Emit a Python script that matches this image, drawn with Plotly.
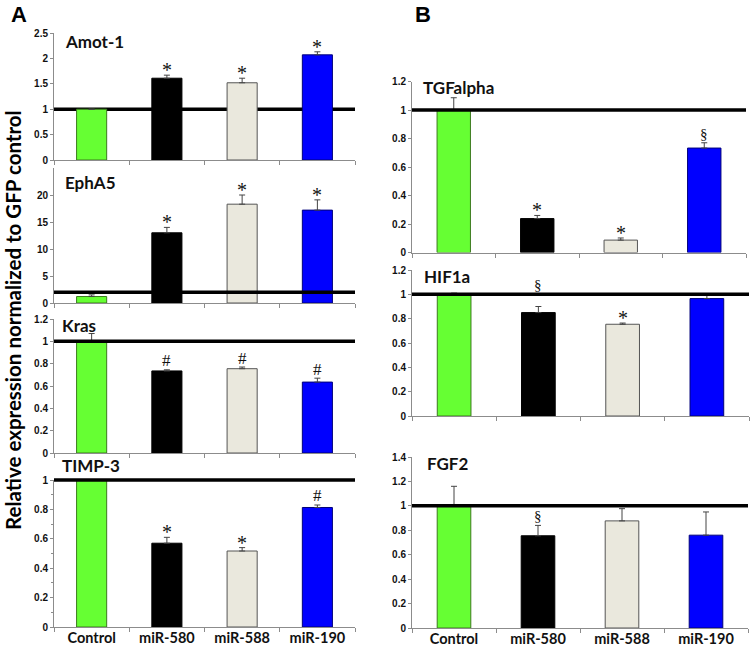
import plotly.graph_objects as go

W, H = 755, 649

categories = ["Control", "miR-580", "miR-588", "miR-190"]
bar_colors = ["#66FF33", "#000000", "#EAE8DD", "#0000FF"]
edge_colors = ["#3C7A1E", "#000000", "#555555", "#00007A"]

# ---- Panel A ----
amot1_vals = [1.0, 1.61, 1.52, 2.07]
amot1_err = [0.0, 0.06, 0.09, 0.06]
amot1_marks = ["", "*", "*", "*"]

epha5_vals = [1.2, 13.0, 18.3, 17.2]
epha5_err = [0.3, 1.0, 1.7, 1.9]
epha5_marks = ["", "*", "*", "*"]

kras_vals = [1.0, 0.735, 0.755, 0.635]
kras_err = [0.07, 0.01, 0.015, 0.035]
kras_marks = ["", "#", "#", "#"]

timp3_vals = [1.0, 0.57, 0.517, 0.813]
timp3_err = [0.0, 0.04, 0.023, 0.017]
timp3_marks = ["", "*", "*", "#"]

# ---- Panel B ----
tgfa_vals = [1.0, 0.238, 0.087, 0.733]
tgfa_err = [0.086, 0.022, 0.015, 0.037]
tgfa_marks = ["", "*", "*", "§"]

hif1a_vals = [1.0, 0.85, 0.754, 0.965]
hif1a_err = [0.01, 0.05, 0.01, 0.035]
hif1a_marks = ["", "§", "*", ""]

fgf2_vals = [1.01, 0.755, 0.877, 0.76]
fgf2_err = [0.15, 0.085, 0.10, 0.19]
fgf2_marks = ["", "§", "", ""]

ticks_12 = [0, 0.2, 0.4, 0.6, 0.8, 1, 1.2]
labels_12 = ["0", "0.2", "0.4", "0.6", "0.8", "1", "1.2"]


def px_x(p):
    return p / W


def px_y(p):
    return 1 - p / H


panels = [
    dict(name="Amot-1", vals=amot1_vals, err=amot1_err, marks=amot1_marks,
         yr=[0, 2.5], tv=[0, 0.5, 1, 1.5, 2, 2.5], tt=["0", "0.5", "1", "1.5", "2", "2.5"],
         ref=1, xd=(54, 355), yd=(33, 160), tp=(63, 42), layer="below", xl=False, minor=None),
    dict(name="EphA5", vals=epha5_vals, err=epha5_err, marks=epha5_marks,
         yr=[0, 25], tv=[0, 5, 10, 15, 20], tt=["0", "5", "10", "15", "20"],
         ref=2, xd=(54, 355), yd=(168, 303), tp=(63, 183), layer="above", xl=False, minor=None),
    dict(name="Kras", vals=kras_vals, err=kras_err, marks=kras_marks,
         yr=[0, 1.2], tv=ticks_12, tt=labels_12,
         ref=1, xd=(54, 355), yd=(319, 453), tp=(60, 325), layer="above", xl=False, minor=None),
    dict(name="TIMP-3", vals=timp3_vals, err=timp3_err, marks=timp3_marks,
         yr=[0, 1.0], tv=[0, 0.2, 0.4, 0.6, 0.8, 1], tt=["0", "0.2", "0.4", "0.6", "0.8", "1"],
         ref=1, xd=(54, 355), yd=(480, 627), tp=(60, 465), layer="above", xl=True,
         minor=[0.1, 0.3, 0.5, 0.7, 0.9]),
    dict(name="TGFalpha", vals=tgfa_vals, err=tgfa_err, marks=tgfa_marks,
         yr=[0, 1.2], tv=ticks_12, tt=labels_12,
         ref=1, xd=(412, 746), yd=(81.5, 252.5), tp=(421, 88), layer="above", xl=False, minor=None),
    dict(name="HIF1a", vals=hif1a_vals, err=hif1a_err, marks=hif1a_marks,
         yr=[0, 1.2], tv=ticks_12, tt=labels_12,
         ref=1, xd=(412, 749), yd=(270, 416), tp=(422, 276), layer="above", xl=False, minor=None),
    dict(name="FGF2", vals=fgf2_vals, err=fgf2_err, marks=fgf2_marks,
         yr=[0, 1.4], tv=[0, 0.2, 0.4, 0.6, 0.8, 1, 1.2, 1.4],
         tt=["0", "0.2", "0.4", "0.6", "0.8", "1", "1.2", "1.4"],
         ref=1, xd=(412, 748), yd=(457, 628), tp=(425, 464), layer="above", xl=True, minor=None),
]

mark_size = {"*": 20, "#": 17, "§": 15}
mark_shift = {"*": 5, "#": 9, "§": 9}

fig = go.Figure()
annotations = []
shapes = []
layout_axes = {}

for i, p in enumerate(panels):
    idx = "" if i == 0 else str(i + 1)
    xa, ya = "x" + idx, "y" + idx
    fig.add_trace(go.Bar(
        x=categories, y=p["vals"], xaxis=xa, yaxis=ya, width=0.4,
        marker=dict(color=bar_colors, line=dict(color=edge_colors, width=1)),
        error_y=dict(type="data", symmetric=False, array=p["err"],
                     arrayminus=[0] * 4, color="#444444", thickness=1, width=3),
        showlegend=False, hoverinfo="skip",
    ))
    xdom = [px_x(p["xd"][0]), px_x(p["xd"][1])]
    ydom = [px_y(p["yd"][1]), px_y(p["yd"][0])]
    layout_axes["xaxis" + idx] = dict(
        domain=xdom, anchor=ya,
        type="category", categoryorder="array", categoryarray=categories,
        showline=True, linecolor="#8c8c8c", linewidth=1,
        ticks="outside", ticklen=4, tickcolor="#8c8c8c", tickson="boundaries",
        showticklabels=p["xl"], showgrid=False, zeroline=False,
        ticklabelstandoff=-2,
        tickfont=dict(family="Lato", size=14.5, color="#111111", weight="bold"),
        range=[-0.5, 3.5],
    )
    yax = dict(
        domain=ydom, anchor=xa,
        range=p["yr"], tickvals=p["tv"], ticktext=p["tt"],
        showline=True, linecolor="#8c8c8c", linewidth=1,
        ticks="outside", ticklen=3, tickcolor="#8c8c8c",
        showgrid=False, zeroline=False,
        tickfont=dict(family="Liberation Sans", size=10, color="#111111", weight="bold"),
    )
    if p["minor"]:
        yax["minor"] = dict(tickvals=p["minor"], ticks="outside", ticklen=2,
                            tickcolor="#8c8c8c", showgrid=False)
    layout_axes["yaxis" + idx] = yax
    # reference line (in paper coords so it is not clipped at the top of the range)
    frac = (p["ref"] - p["yr"][0]) / (p["yr"][1] - p["yr"][0])
    yref_paper = ydom[0] + frac * (ydom[1] - ydom[0])
    shapes.append(dict(type="line", xref="paper", yref="paper",
                       x0=xdom[0], x1=xdom[1], y0=yref_paper, y1=yref_paper,
                       line=dict(color="black", width=3.5), layer=p["layer"]))
    # panel title
    annotations.append(dict(text=p["name"], xref="paper", yref="paper",
                            x=px_x(p["tp"][0]), y=px_y(p["tp"][1]),
                            xanchor="left", yanchor="middle", showarrow=False,
                            font=dict(family="Lato", size=17, color="#111111", weight="bold")))
    # significance marks
    for c, v, e, m in zip(categories, p["vals"], p["err"], p["marks"]):
        if not m:
            continue
        ytop = v + e
        if p["name"] == "HIF1a" and m == "§":
            ytop = max(ytop, p["ref"])
        annotations.append(dict(text=m, xref=xa, yref=ya, x=c, y=ytop,
                                yanchor="middle", yshift=mark_shift[m], showarrow=False,
                                font=dict(family="Liberation Serif", size=mark_size[m],
                                          color="#111111")))

# panel letters
annotations.append(dict(text="A", xref="paper", yref="paper", x=px_x(9), y=px_y(15),
                        xanchor="left", yanchor="middle", showarrow=False,
                        font=dict(family="Liberation Sans", size=22, color="black", weight="bold")))
annotations.append(dict(text="B", xref="paper", yref="paper", x=px_x(413), y=px_y(15),
                        xanchor="left", yanchor="middle", showarrow=False,
                        font=dict(family="Liberation Sans", size=22, color="black", weight="bold")))
# shared y title
annotations.append(dict(text="Relative expression normalized to GFP control",
                        xref="paper", yref="paper", x=px_x(13), y=px_y(320),
                        xanchor="center", yanchor="middle", textangle=-90, showarrow=False,
                        font=dict(family="Lato", size=20.5, color="black", weight="bold")))

fig.update_layout(
    width=W, height=H, margin=dict(l=0, r=0, t=0, b=0, autoexpand=False),
    paper_bgcolor="white", plot_bgcolor="white",
    annotations=annotations, shapes=shapes, bargap=0.6,
    **layout_axes,
)

fig.write_html("out.html", config={"displayModeBar": False},
               post_script="document.documentElement.style.margin='0';"
                           "document.body.style.margin='0';"
                           "document.body.style.overflow='hidden';")
